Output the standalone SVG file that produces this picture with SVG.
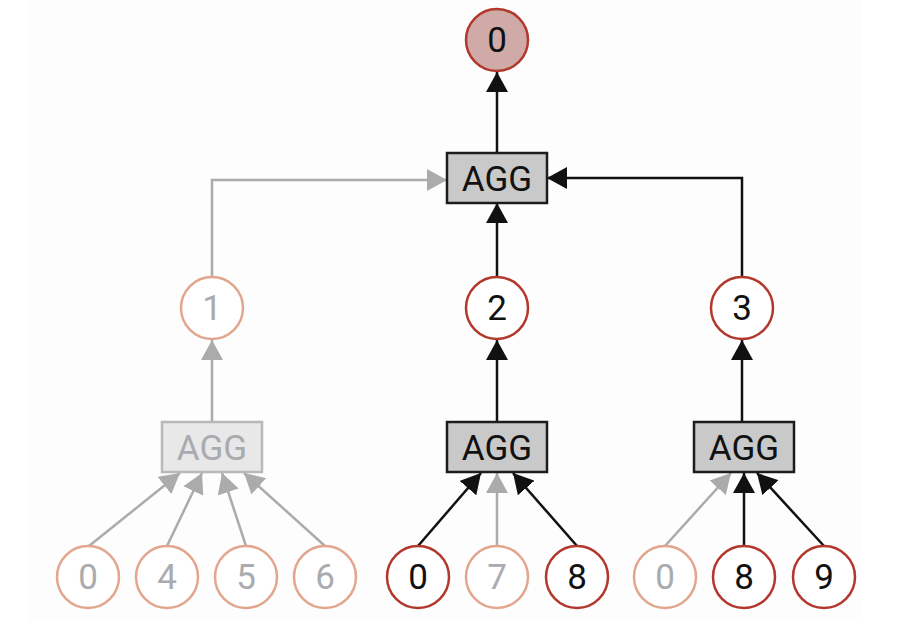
<svg xmlns="http://www.w3.org/2000/svg" width="914" height="644" viewBox="0 0 914 644">
<style>
text{font-family:Roboto,"Liberation Sans",Arial,sans-serif;font-size:35px;text-anchor:middle}
.cb{fill:#fff;stroke:#b2382d;stroke-width:2.5}
.cd{fill:#fff;stroke:#e2a68e;stroke-width:2.5}
.ct{fill:#cfaaa6;stroke:#b2382d;stroke-width:2.5}
.tb{fill:#111}
.td{fill:#a9abae}
.bb{fill:#c9c9c9;stroke:#1c1c1c;stroke-width:2.5}
.bd{fill:#e8e8e8;stroke:#b8b8b8;stroke-width:2.5}
.lb{fill:none;stroke:#111;stroke-width:2.5}
.lg{fill:none;stroke:#ababab;stroke-width:2.5}
</style>
<defs>
<marker id="ab" viewBox="0 0 20 22" refX="20" refY="11" markerWidth="20" markerHeight="22" markerUnits="userSpaceOnUse" orient="auto"><path d="M0,0 L20,11 L0,22 z" fill="#111"/></marker>
<marker id="ag" viewBox="0 0 20 22" refX="20" refY="11" markerWidth="20" markerHeight="22" markerUnits="userSpaceOnUse" orient="auto"><path d="M0,0 L20,11 L0,22 z" fill="#ababab"/></marker>
</defs>
<rect x="28" y="0" width="834" height="622" fill="#fdfdfd"/>
<g id="connectors">
<path class="lb" d="M497,153 L497,72" marker-end="url(#ab)"/>
<path class="lg" d="M212,277 L212,180 L447,180" marker-end="url(#ag)"/>
<path class="lb" d="M742,277 L742,178 L547,178" marker-end="url(#ab)"/>
<path class="lb" d="M497,277 L497,203" marker-end="url(#ab)"/>
<path class="lg" d="M212,422 L212,340" marker-end="url(#ag)"/>
<path class="lb" d="M497,422 L497,340" marker-end="url(#ab)"/>
<path class="lb" d="M742,422 L742,340" marker-end="url(#ab)"/>
<path class="lg" d="M89,546 L180,473" marker-end="url(#ag)"/>
<path class="lg" d="M167,546 L202,473" marker-end="url(#ag)"/>
<path class="lg" d="M246,546 L222,473" marker-end="url(#ag)"/>
<path class="lg" d="M325,546 L244,473" marker-end="url(#ag)"/>
<path class="lg" d="M497,546 L497,473" marker-end="url(#ag)"/>
<path class="lb" d="M418,546 L481,473" marker-end="url(#ab)"/>
<path class="lb" d="M577,546 L513,473" marker-end="url(#ab)"/>
<path class="lg" d="M665,546 L731,473" marker-end="url(#ag)"/>
<path class="lb" d="M744,546 L744,473" marker-end="url(#ab)"/>
<path class="lb" d="M824,546 L757,473" marker-end="url(#ab)"/>
</g>
<g id="root"><circle class="ct" cx="497" cy="40" r="31"/><text class="tb" x="497" y="52">0</text></g>
<g id="agg-top"><rect class="bb" x="447" y="153" width="100" height="50"/><text class="tb" x="497" y="191">AGG</text></g>
<g id="n1"><circle class="cd" cx="212" cy="308" r="31"/><text class="td" x="212" y="320">1</text></g>
<g id="n2"><circle class="cb" cx="497" cy="308" r="31"/><text class="tb" x="497" y="320">2</text></g>
<g id="n3"><circle class="cb" cx="742" cy="308" r="31"/><text class="tb" x="742" y="320">3</text></g>
<g id="agg-left"><rect class="bd" x="162" y="422" width="100" height="50"/><text class="td" x="212" y="460">AGG</text></g>
<g id="agg-mid"><rect class="bb" x="447" y="422" width="100" height="50"/><text class="tb" x="497" y="460">AGG</text></g>
<g id="agg-right"><rect class="bb" x="694" y="422" width="100" height="50"/><text class="tb" x="744" y="460">AGG</text></g>
<g id="l0a"><circle class="cd" cx="88" cy="577" r="31"/><text class="td" x="88" y="589">0</text></g>
<g id="l4"><circle class="cd" cx="167" cy="577" r="31"/><text class="td" x="167" y="589">4</text></g>
<g id="l5"><circle class="cd" cx="246" cy="577" r="31"/><text class="td" x="246" y="589">5</text></g>
<g id="l6"><circle class="cd" cx="325" cy="577" r="31"/><text class="td" x="325" y="589">6</text></g>
<g id="l0b"><circle class="cb" cx="418" cy="577" r="31"/><text class="tb" x="418" y="589">0</text></g>
<g id="l7"><circle class="cd" cx="497" cy="577" r="31"/><text class="td" x="497" y="589">7</text></g>
<g id="l8a"><circle class="cb" cx="577" cy="577" r="31"/><text class="tb" x="577" y="589">8</text></g>
<g id="l0c"><circle class="cd" cx="665" cy="577" r="31"/><text class="td" x="665" y="589">0</text></g>
<g id="l8b"><circle class="cb" cx="744" cy="577" r="31"/><text class="tb" x="744" y="589">8</text></g>
<g id="l9"><circle class="cb" cx="824" cy="577" r="31"/><text class="tb" x="824" y="589">9</text></g>
</svg>
